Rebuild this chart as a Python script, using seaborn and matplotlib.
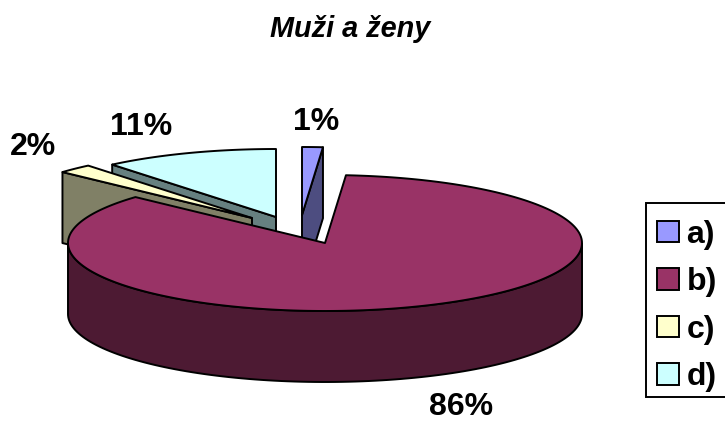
# -*- coding: utf-8 -*-
# Výsečový graf "Muži a ženy", vzhled 3D z Excelu
import numpy as np
import matplotlib.pyplot as plt
from matplotlib.patches import Patch, Rectangle
import seaborn as sns

# Data
categories = ['a)', 'b)', 'c)', 'd)']
values = [1.3, 85.5, 2.2, 11.0]
pct_labels = ['1%', '86%', '2%', '11%']

sns.set_theme(style="white")
plt.rcParams['font.family'] = ['Liberation Sans', 'DejaVu Sans']

top_colors = sns.color_palette(['#9999FF', '#993366', '#FFFFCC', '#CCFFFF'])
side_colors = sns.color_palette(['#4D4D80', '#4D1A33', '#808066', '#668080'])

# Geometrie elipsy
rx, ry, depth = 257, 68, 71
apex = [(302, 215), (325, 243), (252, 218), (276, 217)]
label_pos = [(316, 122), (461, 407), (33, 147), (141, 127)]


def rim(x0, y0, t0, t1, n=120):
    t = np.radians(np.linspace(t0, t1, n))
    return x0 + rx * np.sin(t), y0 - ry * np.cos(t)


fig = plt.figure(figsize=(7.25, 4.23), dpi=100)
ax = fig.add_axes([0, 0, 1, 1])
ax.set_xlim(0, 725)
ax.set_ylim(423, 0)
ax.axis('off')

stops = np.concatenate([[0], np.cumsum(values) / np.sum(values) * 360])
lw = 1.4


def draw_slice(i, cut_angle):
    t0, t1 = stops[i], stops[i + 1]
    x0, y0 = apex[i]
    # boční stěna řezu
    cx = x0 + rx * np.sin(np.radians(cut_angle))
    cy = y0 - ry * np.cos(np.radians(cut_angle))
    ax.fill([x0, cx, cx, x0], [y0, cy, cy + depth, y0 + depth],
            facecolor=side_colors[i], edgecolor='black', lw=lw, joinstyle='round')
    # vrchní plocha
    xs, ys = rim(x0, y0, t0, t1)
    ax.fill(np.r_[x0, xs], np.r_[y0, ys], facecolor=top_colors[i],
            edgecolor='black', lw=lw, joinstyle='round')


# odzadu dopředu
draw_slice(3, stops[3])
draw_slice(2, stops[2])
draw_slice(0, stops[1])

# plášť a vrch výseče b)
x0, y0 = apex[1]
xs, ys = rim(x0, y0, 90, 270)
ax.fill(np.r_[xs, xs[::-1]], np.r_[ys, ys[::-1] + depth],
        facecolor=side_colors[1], edgecolor='black', lw=lw)
xs, ys = rim(x0, y0, stops[1], stops[2], 300)
ax.fill(np.r_[x0, xs], np.r_[y0, ys], facecolor=top_colors[1],
        edgecolor='black', lw=lw, joinstyle='round')

for lab, (px, py) in zip(pct_labels, label_pos):
    ax.text(px, py, lab, ha='center', va='center', fontsize=23,
            fontweight='bold', color='black')

ax.text(350, 29, 'Muži a ženy', ha='center', va='center', fontsize=20.8,
        fontweight='bold', fontstyle='italic', color='black')

# rámeček legendy přesahuje přes pravý okraj
ax.add_patch(Rectangle((646, 203), 95, 194, facecolor='white', edgecolor='black',
                       lw=1.4, clip_on=True))
handles = [Patch(facecolor=c, edgecolor='black', lw=1.4) for c in top_colors]
leg = ax.legend(handles, categories, loc='upper left', bbox_to_anchor=(646, 208),
                bbox_transform=ax.transData, frameon=False,
                borderpad=0.36, borderaxespad=0, handlelength=0.66,
                handleheight=0.66, handletextpad=0.25, labelspacing=0.55,
                prop={'weight': 'bold', 'size': 23})
for t in leg.get_texts():
    t.set_color('black')

fig.savefig('out.png', dpi=100)
